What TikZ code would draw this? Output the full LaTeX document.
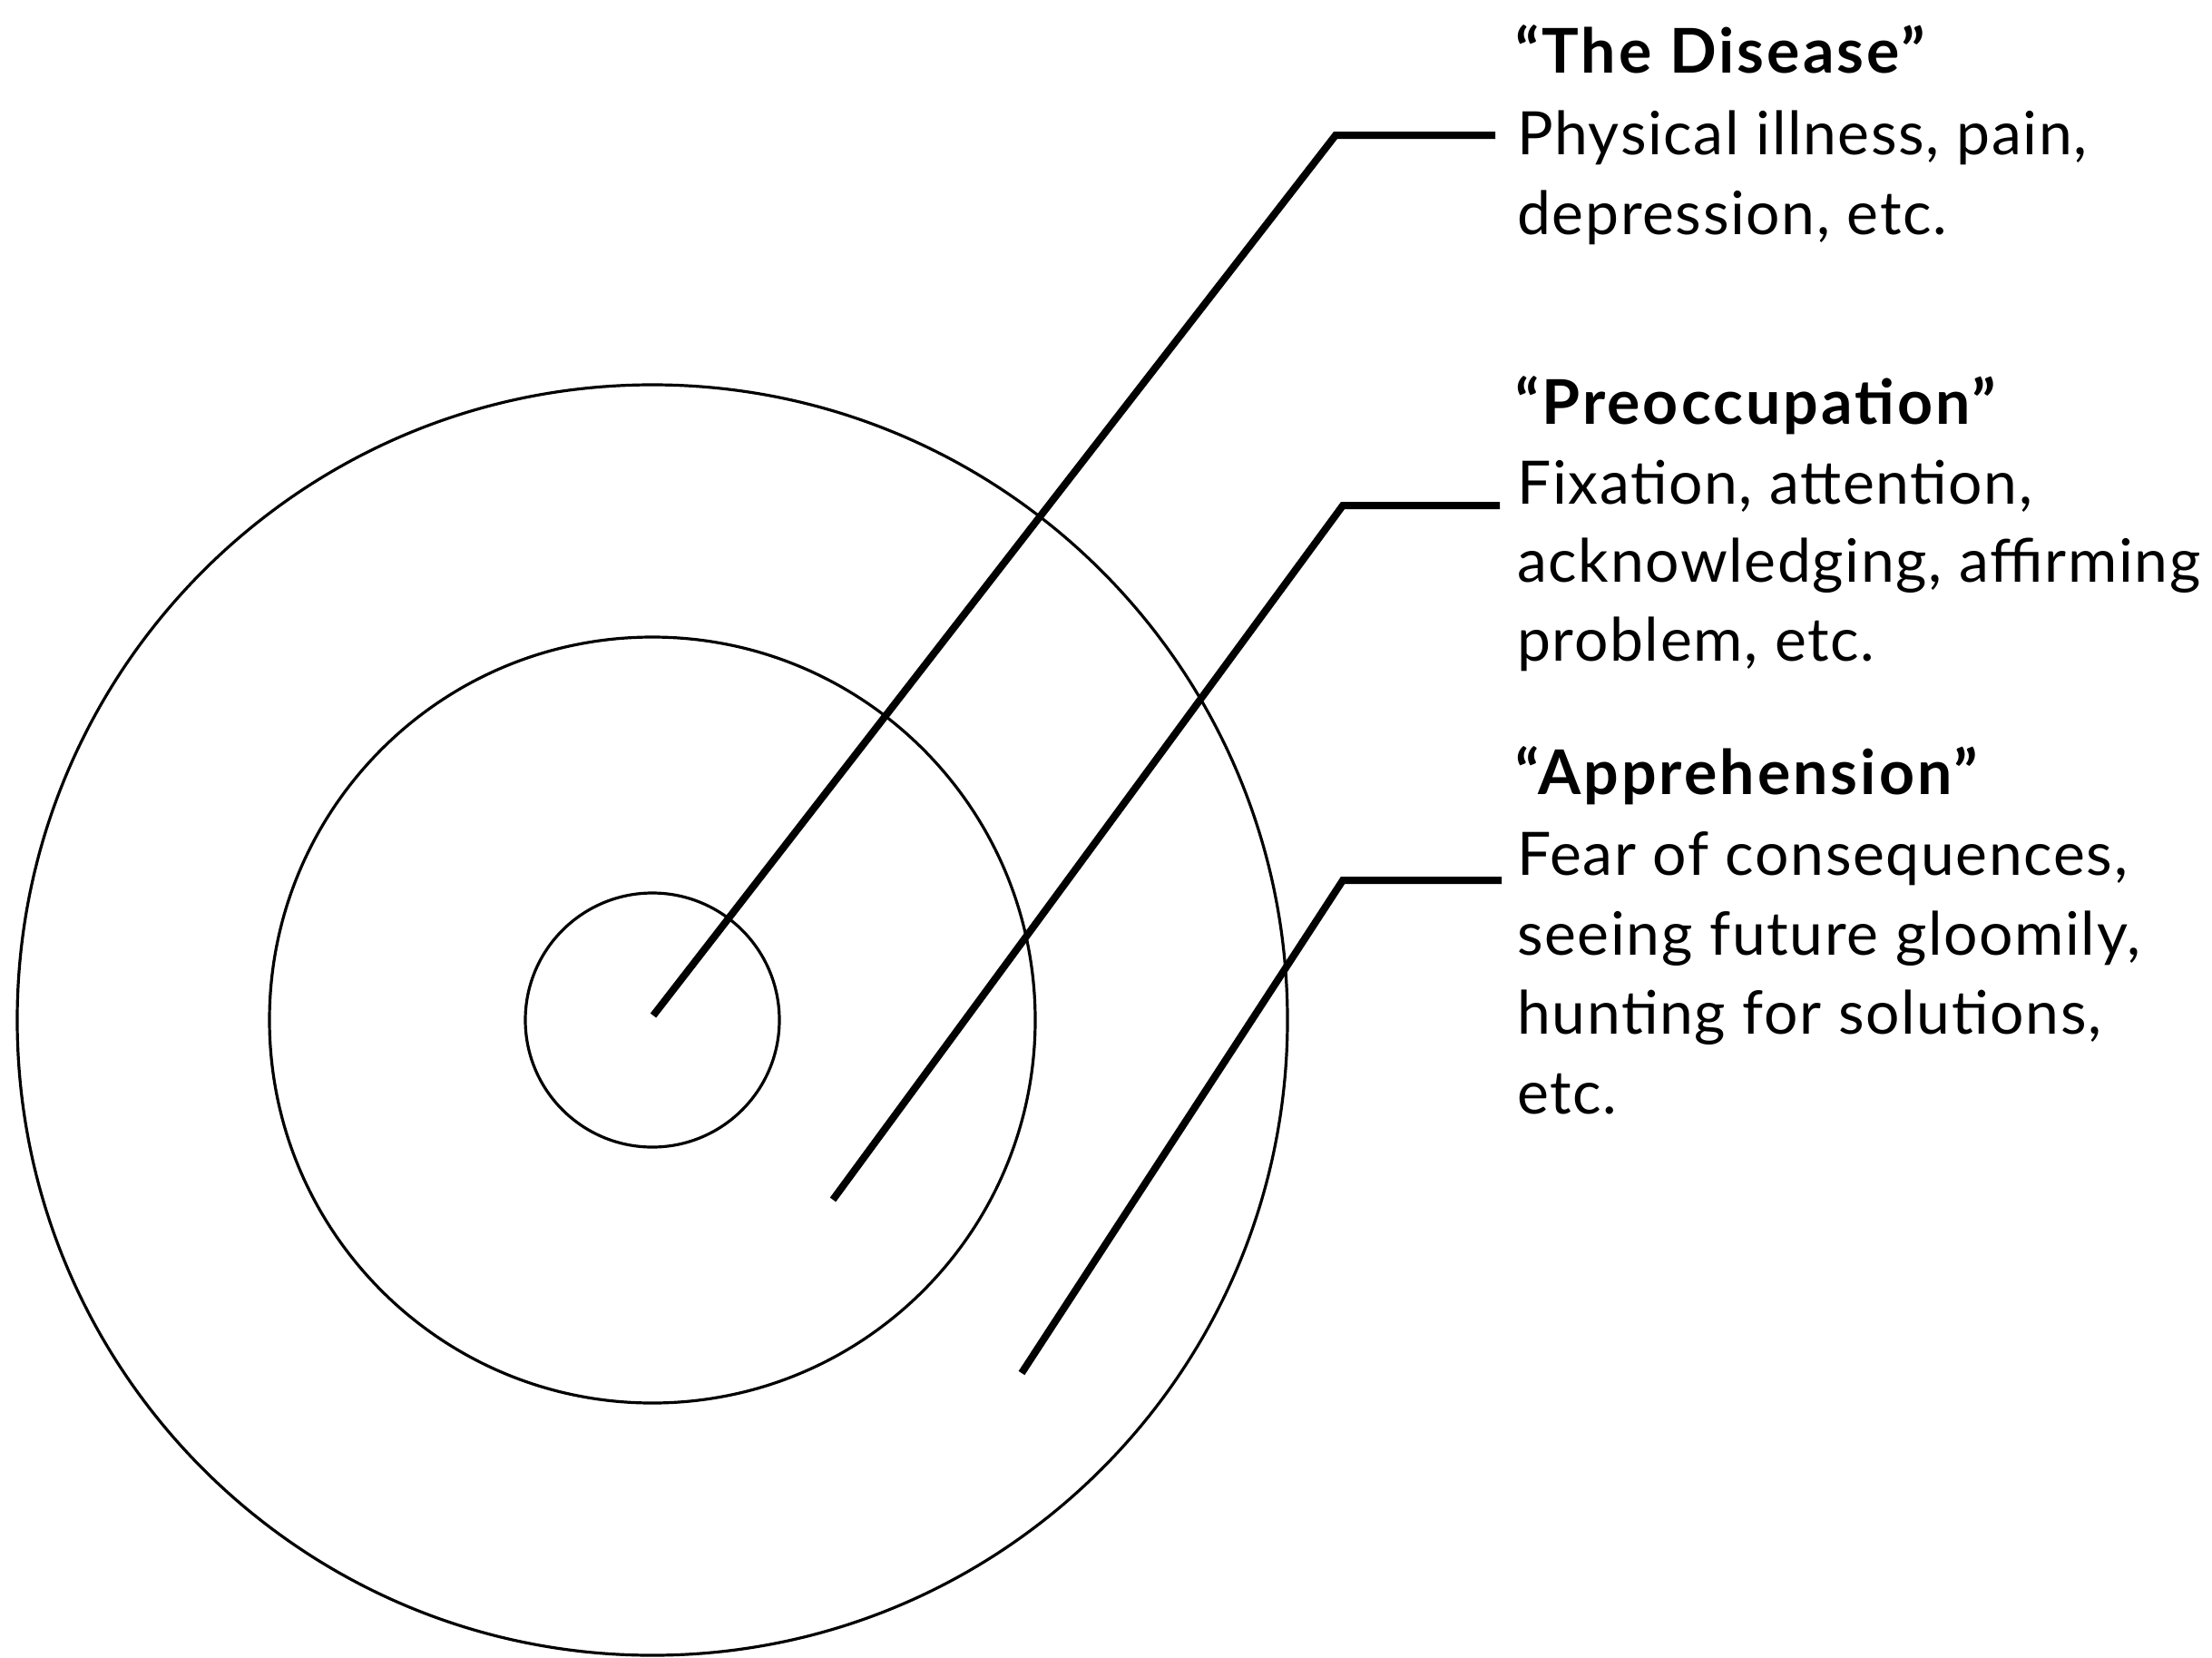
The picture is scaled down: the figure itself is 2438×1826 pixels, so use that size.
\documentclass[tikz,border=0pt]{standalone}
\usepackage{fontspec}
\setmainfont{Lato}
\newfontfamily\bodyfont{Lato}[LetterSpace=2.5]
\newfontfamily\headfont{Lato}[LetterSpace=4.5]
\begin{document}
\begin{tikzpicture}[x=1pt,y=-1pt,
  ring/.style={draw=black,line width=3.2pt},
  leader/.style={draw=black,line width=8pt,line cap=butt,line join=miter},
  txt/.style={anchor=base west,inner sep=0pt,font=\bodyfont\fontsize{66}{88}\selectfont},
  ttl/.style={anchor=base west,inner sep=0pt,font=\headfont\bfseries\fontsize{68}{88}\selectfont}]
\useasboundingbox (0,0) rectangle (2438,1826);
\coordinate (c) at (719,1124);
\draw[ring] (c) circle[radius=700];
\draw[ring] (c) circle[radius=422];
\draw[ring] (c) circle[radius=140];
% texts
\node[ttl] (t1) at (1670,80) {“The Disease”};
\node[txt] (t1a) at (1672,170) {Physical illness, pain,};
\node[txt] (t1b) at (1672,258) {depression, etc.};
\node[ttl] (t2) at (1670,467) {“Preoccupation”};
\node[txt] (t2a) at (1672,555) {Fixation, attention,};
\node[txt] (t2b) at (1672,641) {acknowledging, affirming};
\node[txt] (t2c) at (1672,728) {problem, etc.};
\node[ttl] (t3) at (1670,875) {“Apprehension”};
\node[txt] (t3a) at (1672,964) {Fear of consequences,};
\node[txt] (t3b) at (1672,1052) {seeing future gloomily,};
\node[txt] (t3c) at (1672,1139) {hunting for solutions,};
\node[txt] (t3d) at (1672,1227) {etc.};
% leader points
\coordinate (s1) at (720,1119);
\coordinate (k1) at (1472,149);
\coordinate (e1) at (1648,149);
\coordinate (s2) at (918,1322);
\coordinate (k2) at (1480,557);
\coordinate (e2) at (1653,557);
\coordinate (s3) at (1126,1513);
\coordinate (k3) at (1480,970);
\coordinate (e3) at (1655,970);
\draw[leader] (s1) -- (k1) -- (e1);
\draw[leader] (s2) -- (k2) -- (e2);
\draw[leader] (s3) -- (k3) -- (e3);
\end{tikzpicture}
\end{document}
